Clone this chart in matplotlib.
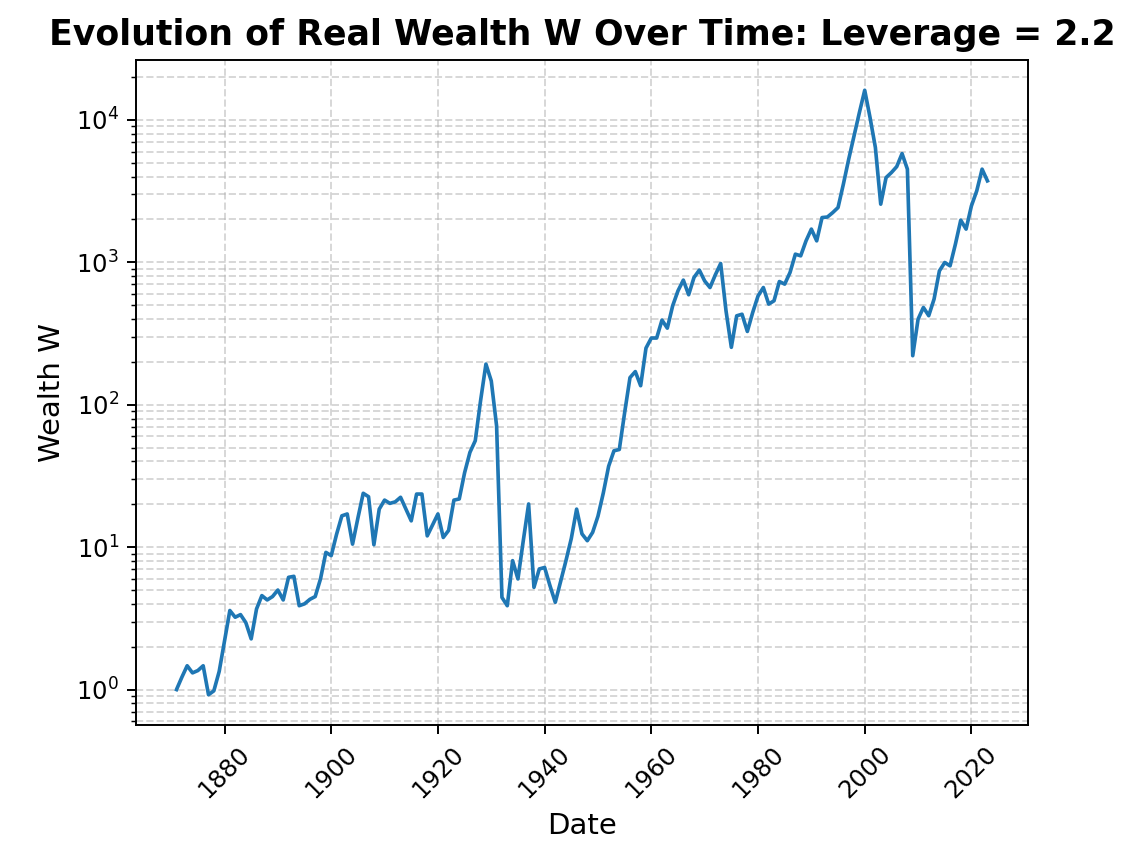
import matplotlib
matplotlib.use("Agg")
import matplotlib.pyplot as plt
import numpy as np

# yearly wealth values (leverage 2.2)
years = list(range(1871, 2024))
wealth = [
    1.0, 1.22, 1.47, 1.31, 1.36, 1.47, 0.92, 0.98, 1.34, 2.2,          # 1871-1880
    3.59, 3.22, 3.36, 2.95, 2.27, 3.68, 4.57, 4.26, 4.5, 5.0,          # 1881-1890
    4.26, 6.14, 6.24, 3.88, 4.0, 4.3, 4.5, 6.0, 9.19, 8.72,            # 1891-1900
    12.3, 16.6, 17.1, 10.5, 16.0, 23.9, 22.6, 10.4, 18.5, 21.4,        # 1901-1910
    20.3, 20.8, 22.4, 18.5, 15.3, 23.6, 23.6, 12.0, 14.3, 17.1,        # 1911-1920
    11.7, 13.1, 21.4, 21.8, 33.3, 46.3, 55.9, 107, 193, 147,           # 1921-1930
    71, 4.44, 3.88, 8.04, 5.98, 11.1, 20.1, 5.22, 7.03, 7.2,           # 1931-1940
    5.37, 4.10, 5.73, 8.04, 11.5, 18.5, 12.4, 11.1, 12.7, 16.5,        # 1941-1950
    24, 37, 47.5, 48.5, 88, 155, 171, 136, 250, 294,                   # 1951-1960
    294, 393, 345, 495, 631, 750, 592, 783, 882, 740,                  # 1961-1970
    665, 817, 981, 457, 253, 421, 432, 327, 444, 580,                  # 1971-1980
    665, 509, 537, 733, 703, 848, 1141, 1111, 1415, 1711,              # 1981-1990
    1415, 2062, 2080, 2234, 2425, 3540, 5300, 7725, 11260, 16150,      # 1991-2000
    10380, 6395, 2560, 3935, 4268, 4700, 5800, 4510, 221, 399,         # 2001-2010
    482, 422, 552, 871, 997, 945, 1342, 1977, 1711, 2490,              # 2011-2020
    3176, 4510, 3733,                                                  # 2021-2023
]
leverage = 2.2

DPI = 175
fig = plt.figure(figsize=(1132 / DPI, 854 / DPI), dpi=DPI)
ax = fig.add_axes([0.1201, 0.1511, 0.7880, 0.7786])

ax.plot(years, wealth, color="C0", linewidth=1.5)
ax.set_yscale("log")

ax.set_title("Evolution of Real Wealth W Over Time: Leverage = {}".format(leverage),
             fontsize=14.3, fontweight="bold")
ax.set_xlabel("Date", fontsize=12)
ax.set_ylabel("Wealth W", fontsize=12)
ax.set_xticks(range(1880, 2021, 20))
plt.setp(ax.get_xticklabels(), rotation=45)
ax.grid(True, which="both", linestyle="--", alpha=0.5)

fig.savefig("out.png", dpi=DPI)
